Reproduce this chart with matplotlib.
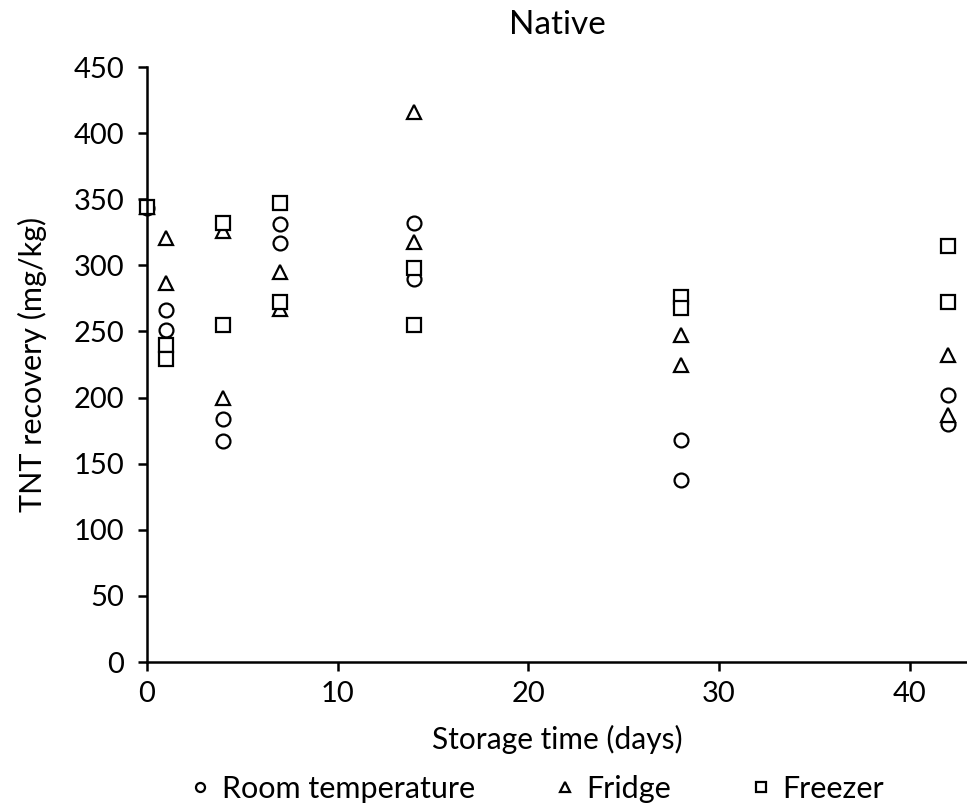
import matplotlib
matplotlib.use("Agg")
import matplotlib.pyplot as plt

plt.rcParams['font.family'] = ['Lato', 'DejaVu Sans']

# storage time (days) and TNT recovery (mg/kg)
room_days = [0, 1, 1, 4, 4, 7, 7, 14, 14, 28, 28, 42, 42]
room_tnt = [343, 266, 251, 184, 167, 331, 317, 332, 290, 168, 138, 202, 180]

fridge_days = [0, 1, 1, 4, 4, 7, 7, 14, 14, 28, 28, 42, 42]
fridge_tnt = [344, 321, 287, 326, 200, 295, 267, 416, 318, 247, 225, 232, 187]

freezer_days = [0, 1, 1, 4, 4, 7, 7, 14, 14, 28, 28, 42, 42]
freezer_tnt = [344, 240, 229, 332, 255, 347, 272, 298, 255, 276, 268, 315, 272]


def make_plot():
    fig = plt.figure(figsize=(9.67, 8.05), dpi=100)
    ax = fig.add_axes([147 / 967, 143 / 805, 820 / 967, 595 / 805])

    style = dict(linestyle='none', markerfacecolor='white', markeredgecolor='black',
                 markeredgewidth=1.6, clip_on=False)
    ax.plot(room_days, room_tnt, marker='o', markersize=10, label='Room temperature', **style)
    ax.plot(fridge_days, fridge_tnt, marker='^', markersize=10, label='Fridge', **style)
    ax.plot(freezer_days, freezer_tnt, marker='s', markersize=10, label='Freezer', **style)

    ax.set_xlim(0, 43)
    ax.set_ylim(0, 450)
    ax.set_xticks(range(0, 41, 10))
    ax.set_yticks(range(0, 451, 50))
    for side in ('top', 'right'):
        ax.spines[side].set_visible(False)
    for side in ('left', 'bottom'):
        ax.spines[side].set_linewidth(1.8)
    ax.tick_params(axis='both', labelsize=21, width=1.8, length=6.5, direction='out')
    ax.tick_params(axis='x', pad=7)
    ax.tick_params(axis='y', pad=10)

    ax.set_title('Native', fontsize=24, pad=24)
    ax.set_xlabel('Storage time (days)', fontsize=21.5, labelpad=13)
    ax.set_ylabel('TNT recovery (mg/kg)', fontsize=22, labelpad=19)

    fig.legend(loc='center', bbox_to_anchor=(0.556, 0.02), ncol=3, frameon=False,
               fontsize=22, markerscale=0.65, handlelength=0.6, handletextpad=0.4,
               columnspacing=2.65)
    fig.savefig('out.png', dpi=100)


if __name__ == '__main__':
    make_plot()
